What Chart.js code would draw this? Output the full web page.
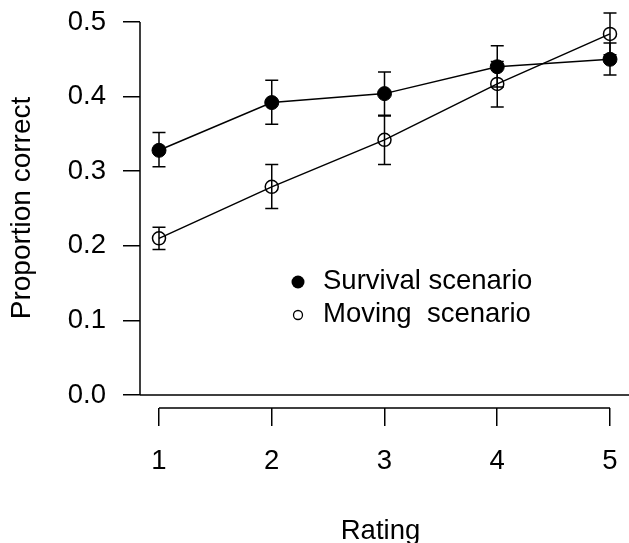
<!DOCTYPE html>
<html>
<head>
<meta charset="utf-8">
<script src="https://cdn.jsdelivr.net/npm/chart.js@4.4.0/dist/chart.umd.min.js"></script>
<style>
  html, body { margin: 0; padding: 0; background: #fff; }
  #wrap { width: 629px; height: 543px; }
</style>
</head>
<body>
<div id="wrap"><canvas id="chart" width="629" height="543"></canvas></div>
<script>
// values
const ratings = [1, 2, 3, 4, 5];
const yTicks = [0, 0.1, 0.2, 0.3, 0.4, 0.5];

const survival     = [0.328, 0.392, 0.404, 0.440, 0.450];
const survivalLow  = [0.306, 0.363, 0.375, 0.413, 0.429];
const survivalHigh = [0.352, 0.422, 0.433, 0.468, 0.472];

const moving     = [0.210, 0.279, 0.342, 0.417, 0.484];
const movingLow  = [0.195, 0.250, 0.309, 0.386, 0.456];
const movingHigh = [0.225, 0.309, 0.374, 0.447, 0.512];

const FONT = "'Liberation Sans', Arial, sans-serif";
const FS = 27.5;

function toPoints(vals) {
  return ratings.map((r, i) => ({ x: r, y: vals[i] }));
}

function drawErrorBars(ctx, x, y, lows, highs) {
  ratings.forEach((r, i) => {
    const px = x.getPixelForValue(r);
    const lo = y.getPixelForValue(lows[i]);
    const hi = y.getPixelForValue(highs[i]);
    ctx.beginPath();
    ctx.moveTo(px, lo);
    ctx.lineTo(px, hi);
    ctx.moveTo(px - 6.5, lo);
    ctx.lineTo(px + 6.5, lo);
    ctx.moveTo(px - 6.5, hi);
    ctx.lineTo(px + 6.5, hi);
    ctx.stroke();
  });
}

const extras = {
  id: 'extras',
  beforeDatasetsDraw(chart) {
    const { ctx, chartArea, scales: { x, y } } = chart;
    ctx.save();
    ctx.strokeStyle = '#000';
    ctx.lineWidth = 1.5;
    ctx.beginPath();
    // y axis only spans the tick range
    ctx.moveTo(chartArea.left, y.getPixelForValue(yTicks[0]));
    ctx.lineTo(chartArea.left, y.getPixelForValue(yTicks[yTicks.length - 1]));
    // line at zero across the plot
    ctx.moveTo(chartArea.left, y.getPixelForValue(0));
    ctx.lineTo(chart.width, y.getPixelForValue(0));
    // x axis from first to last rating
    ctx.moveTo(x.getPixelForValue(ratings[0]), chartArea.bottom);
    ctx.lineTo(x.getPixelForValue(ratings[ratings.length - 1]), chartArea.bottom);
    ctx.stroke();

    drawErrorBars(ctx, x, y, survivalLow, survivalHigh);
    drawErrorBars(ctx, x, y, movingLow, movingHigh);
    ctx.restore();
  },
  afterDatasetsDraw(chart) {
    const { ctx } = chart;
    ctx.save();
    ctx.fillStyle = '#000';
    ctx.strokeStyle = '#000';
    ctx.beginPath();
    ctx.arc(298, 282, 6.5, 0, Math.PI * 2);
    ctx.fill();
    ctx.lineWidth = 1.3;
    ctx.beginPath();
    ctx.arc(298, 315, 4.5, 0, Math.PI * 2);
    ctx.stroke();
    ctx.font = FS + 'px ' + FONT;
    ctx.textBaseline = 'middle';
    ctx.textAlign = 'left';
    ctx.fillText('Survival scenario', 323, 281);
    ctx.fillText('Moving  scenario', 323, 314);
    ctx.restore();
  }
};

new Chart(document.getElementById('chart'), {
  type: 'line',
  data: {
    datasets: [
      {
        label: 'Survival scenario',
        data: toPoints(survival),
        borderColor: '#000',
        borderWidth: 1.5,
        pointRadius: 7,
        pointBackgroundColor: '#000',
        pointBorderColor: '#000',
        pointBorderWidth: 1,
        fill: false,
        tension: 0
      },
      {
        label: 'Moving scenario',
        data: toPoints(moving),
        borderColor: '#000',
        borderWidth: 1.5,
        pointRadius: 6.5,
        pointBackgroundColor: 'rgba(0,0,0,0)',
        pointBorderColor: '#000',
        pointBorderWidth: 1.5,
        fill: false,
        tension: 0
      }
    ]
  },
  options: {
    responsive: false,
    animation: false,
    layout: { padding: { top: 7, right: 1, left: 0, bottom: 0 } },
    plugins: {
      legend: { display: false },
      tooltip: { enabled: false }
    },
    scales: {
      x: {
        type: 'linear',
        min: 0.8315,
        max: 5.0976,
        afterBuildTicks: s => { s.ticks = ratings.map(v => ({ value: v })); },
        afterFit: s => { s.height = 135; s.paddingLeft = 0; s.paddingRight = 0; },
        border: { display: false },
        grid: { display: true, drawOnChartArea: false, drawTicks: true, tickLength: 18, color: '#000', lineWidth: 1.5 },
        ticks: { color: '#000', padding: 19, font: { family: FONT, size: FS }, maxRotation: 0 },
        title: { display: true, text: 'Rating', color: '#000', font: { family: FONT, size: FS, lineHeight: 1 }, padding: { top: 0, bottom: -2 } }
      },
      y: {
        min: -0.01743,
        max: 0.51877,
        afterBuildTicks: s => { s.ticks = yTicks.map(v => ({ value: v })); },
        afterFit: s => { s.width = 140; s.paddingTop = 0; s.paddingBottom = 0; },
        border: { display: false },
        grid: { display: true, drawOnChartArea: false, drawTicks: true, tickLength: 17, color: '#000', lineWidth: 1.5 },
        ticks: { color: '#000', padding: 17, font: { family: FONT, size: FS }, callback: v => v.toFixed(1) },
        title: { display: true, text: 'Proportion correct', color: '#000', font: { family: FONT, size: 28, lineHeight: 1.2 }, padding: { top: 5, bottom: 0 } }
      }
    }
  },
  plugins: [extras]
});
</script>
</body>
</html>
